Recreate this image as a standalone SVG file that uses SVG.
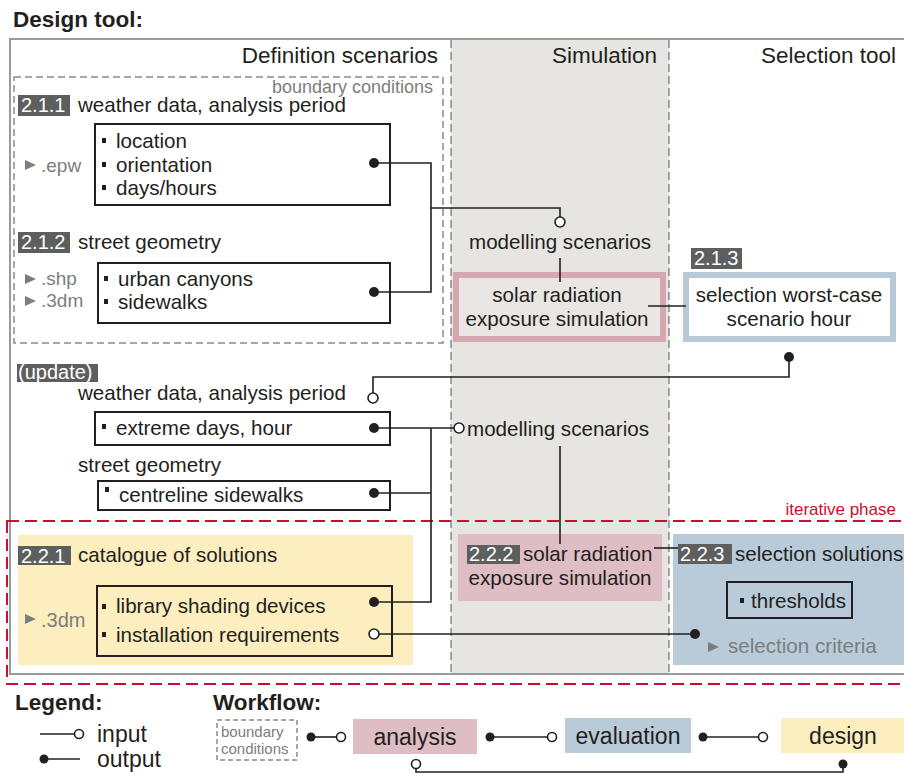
<svg xmlns="http://www.w3.org/2000/svg" width="904" height="776" viewBox="0 0 904 776">
  <defs>
    <style>
      text { font-family: "Liberation Sans", Arial, sans-serif; fill: #231f20; }
      .title { font-size: 22.5px; font-weight: bold; }
      .head { font-size: 22.5px; }
      .lbl { font-size: 20.6px; }
      .small { font-size: 18px; fill: #7d7d7d; }
      .ext { font-size: 19px; fill: #7d7d7d; }
      .tag { fill: #5d5e5e; }
      .tagt { font-size: 20px; fill: #ffffff; }
      .box { fill: none; stroke: #231f20; stroke-width: 2; }
      .wire { fill: none; stroke: #231f20; stroke-width: 1.6; }
      .out { fill: #231f20; }
      .in { fill: #ffffff; stroke: #231f20; stroke-width: 1.6; }
      .tri { fill: #7d7d7d; }
      .wf { font-size: 23px; }
    </style>
  </defs>

  <!-- frame and columns -->
  <text class="title" x="13" y="27">Design tool:</text>
  <rect x="451" y="39" width="218" height="635" fill="#e6e5e1"/>
  <rect x="10" y="39" width="900" height="635" fill="none" stroke="#9a9a9a" stroke-width="2"/>
  <line x1="451" y1="40" x2="451" y2="673" stroke="#555" stroke-width="1" stroke-dasharray="8 4"/>
  <line x1="669" y1="40" x2="669" y2="673" stroke="#555" stroke-width="1" stroke-dasharray="8 4"/>
  <text class="head" x="438" y="63" text-anchor="end">Definition scenarios</text>
  <text class="head" x="657" y="63" text-anchor="end">Simulation</text>
  <text class="head" x="896" y="63" text-anchor="end">Selection tool</text>

  <!-- boundary conditions -->
  <g id="boundary-conditions">
    <rect x="14" y="77" width="429" height="266" fill="none" stroke="#8a8a8a" stroke-width="1.5" stroke-dasharray="7 4"/>
    <text class="small" x="433" y="93" text-anchor="end">boundary conditions</text>
  </g>

  <!-- 2.1.1 weather data -->
  <g id="n211">
    <rect class="tag" x="18" y="95" width="52" height="21"/>
    <text class="tagt" x="21" y="112">2.1.1</text>
    <text class="lbl" x="78" y="112">weather data, analysis period</text>
    <polygon class="tri" points="25,160 36,165 25,170"/>
    <text class="ext" x="41" y="172">.epw</text>
    <rect class="box" x="95" y="124" width="295" height="81"/>
    <rect class="out" x="102" y="138" width="4" height="5"/>
    <text class="lbl" x="116" y="148">location</text>
    <rect class="out" x="102" y="162" width="4" height="5"/>
    <text class="lbl" x="116" y="172">orientation</text>
    <rect class="out" x="102" y="185" width="4" height="5"/>
    <text class="lbl" x="116" y="195">days/hours</text>
  </g>

  <!-- 2.1.2 street geometry -->
  <g id="n212">
    <rect class="tag" x="18" y="232" width="52" height="21"/>
    <text class="tagt" x="21" y="249">2.1.2</text>
    <text class="lbl" x="78" y="249">street geometry</text>
    <polygon class="tri" points="25,274 36,279 25,284"/>
    <text class="ext" x="41" y="285">.shp</text>
    <polygon class="tri" points="25,296 36,301 25,306"/>
    <text class="ext" x="41" y="307">.3dm</text>
    <rect class="box" x="98" y="263" width="292" height="60"/>
    <rect class="out" x="104" y="276" width="4" height="5"/>
    <text class="lbl" x="118" y="286">urban canyons</text>
    <rect class="out" x="104" y="299" width="4" height="5"/>
    <text class="lbl" x="118" y="309">sidewalks</text>
  </g>

  <!-- simulation of modelling scenarios -->
  <g id="modelling-1">
    <text class="lbl" x="560" y="249" text-anchor="middle">modelling scenarios</text>
  </g>
  <g id="sim-1">
    <rect x="456" y="275" width="207" height="64" fill="#e9e6e3" stroke="#d3a8b1" stroke-width="6"/>
    <text class="lbl" x="557" y="302" text-anchor="middle">solar radiation</text>
    <text class="lbl" x="557" y="326" text-anchor="middle">exposure simulation</text>
  </g>

  <!-- 2.1.3 selection worst-case -->
  <g id="n213">
    <rect class="tag" x="691" y="248" width="51" height="21"/>
    <text class="tagt" x="694" y="265">2.1.3</text>
    <rect x="686" y="275" width="207" height="64" fill="#ffffff" stroke="#b7c9d7" stroke-width="6"/>
    <text class="lbl" x="789" y="302" text-anchor="middle">selection worst-case</text>
    <text class="lbl" x="789" y="326" text-anchor="middle">scenario hour</text>
  </g>

  <!-- update phase -->
  <g id="update">
    <rect class="tag" x="17" y="364" width="81" height="18"/>
    <text x="18" y="379" style="font-size:20px;fill:#ffffff">(update)</text>
    <text class="lbl" x="78" y="400">weather data, analysis period</text>
    <rect class="box" x="95" y="412" width="295" height="33"/>
    <rect class="out" x="102" y="424" width="4" height="5"/>
    <text class="lbl" x="116" y="435">extreme days, hour</text>
    <text class="lbl" x="78" y="472">street geometry</text>
    <rect class="box" x="98" y="481" width="292" height="29"/>
    <rect class="out" x="105" y="487" width="4" height="5"/>
    <text class="lbl" x="119" y="502">centreline sidewalks</text>
  </g>

  <g id="modelling-2">
    <text class="lbl" x="467" y="436">modelling scenarios</text>
  </g>

  <!-- iterative phase -->
  <g id="iterative-phase">
    <rect x="7" y="521" width="905" height="163" fill="none" stroke="#c8102e" stroke-width="2" stroke-dasharray="12 6"/>
    <text x="896" y="515" text-anchor="end" style="font-size:17px;fill:#c8102e">iterative phase</text>
  </g>

  <!-- 2.2.1 catalogue -->
  <g id="n221">
    <rect x="18" y="535" width="395" height="130" fill="#fdeebf"/>
    <rect class="tag" x="18" y="546" width="53" height="19"/>
    <text class="tagt" x="21" y="563">2.2.1</text>
    <text class="lbl" x="78" y="562">catalogue of solutions</text>
    <polygon class="tri" points="25,614 36,619 25,624"/>
    <text class="ext" x="41" y="627" style="font-size:20px">.3dm</text>
    <rect class="box" x="97" y="586" width="295" height="70"/>
    <rect class="out" x="102" y="604" width="4" height="5"/>
    <text class="lbl" x="116" y="613">library shading devices</text>
    <rect class="out" x="102" y="632" width="4" height="5"/>
    <text class="lbl" x="116" y="642">installation requirements</text>
  </g>

  <!-- 2.2.2 simulation -->
  <g id="n222">
    <rect x="458" y="534" width="204" height="67" fill="#dfbdc5"/>
    <rect class="tag" x="467" y="545" width="53" height="19"/>
    <text class="tagt" x="469" y="561">2.2.2</text>
    <text class="lbl" x="523" y="561">solar radiation</text>
    <text class="lbl" x="560" y="585" text-anchor="middle">exposure simulation</text>
  </g>

  <!-- 2.2.3 selection solutions -->
  <g id="n223">
    <rect x="673" y="534" width="240" height="131" fill="#b9cbd9"/>
    <rect class="tag" x="678" y="544" width="54" height="20"/>
    <text class="tagt" x="680" y="561">2.2.3</text>
    <text class="lbl" x="735" y="561">selection solutions</text>
    <rect class="box" x="727" y="582" width="125" height="36"/>
    <rect class="out" x="740" y="598" width="4" height="5"/>
    <text class="lbl" x="751" y="608">thresholds</text>
    <polygon class="tri" points="708,642 719,647 708,652"/>
    <text class="lbl" x="728" y="653" style="fill:#7d7d7d">selection criteria</text>
  </g>

  <!-- connectors -->
  <g id="connectors">
    <polyline class="wire" points="374,163 431,163 431,292 374,292"/>
    <polyline class="wire" points="431,208 560,208 560,217"/>
    <line class="wire" x1="560" y1="258" x2="560" y2="282"/>
    <line class="wire" x1="648" y1="306" x2="686" y2="306"/>
    <polyline class="wire" points="789,357 789,377 373,377 373,393"/>
    <polyline class="wire" points="374,428 454,428"/>
    <polyline class="wire" points="374,493 431,493"/>
    <polyline class="wire" points="431,428 431,602 374,602"/>
    <line class="wire" x1="560" y1="446" x2="560" y2="544"/>
    <line class="wire" x1="654" y1="548" x2="678" y2="548"/>
    <line class="wire" x1="379" y1="634" x2="695" y2="634"/>

    <circle class="out" cx="374" cy="163" r="5"/>
    <circle class="out" cx="374" cy="292" r="5"/>
    <circle class="in" cx="560" cy="222" r="5"/>
    <circle class="out" cx="789" cy="357" r="5"/>
    <circle class="in" cx="373" cy="398" r="5"/>
    <circle class="out" cx="374" cy="428" r="5"/>
    <circle class="in" cx="459" cy="428" r="5"/>
    <circle class="out" cx="374" cy="493" r="5"/>
    <circle class="out" cx="374" cy="602" r="5"/>
    <circle class="in" cx="374" cy="634" r="5"/>
    <circle class="out" cx="695" cy="634" r="5"/>
  </g>

  <!-- legend -->
  <g id="legend">
    <text class="title" x="15" y="710">Legend:</text>
    <line class="wire" x1="40" y1="734" x2="75" y2="734"/>
    <circle class="in" cx="79" cy="734" r="4.5"/>
    <text class="wf" x="97" y="742">input</text>
    <line class="wire" x1="44" y1="759" x2="80" y2="759"/>
    <circle class="out" cx="44" cy="759" r="4.5"/>
    <text class="wf" x="97" y="767">output</text>
  </g>

  <!-- workflow -->
  <g id="workflow">
    <text class="title" x="213" y="710">Workflow:</text>
    <g id="wf-boundary">
      <rect x="217" y="720" width="80" height="40" fill="none" stroke="#8a8a8a" stroke-width="1.5" stroke-dasharray="5 3"/>
      <text x="221" y="737" style="font-size:15px;fill:#7d7d7d">boundary</text>
      <text x="221" y="754" style="font-size:15px;fill:#7d7d7d">conditions</text>
    </g>
    <g id="wf-analysis">
      <rect x="353" y="719" width="124" height="35" fill="#dfbdc5"/>
      <text class="wf" x="415" y="745" text-anchor="middle">analysis</text>
    </g>
    <g id="wf-evaluation">
      <rect x="565" y="718" width="126" height="35" fill="#b9cbd9"/>
      <text class="wf" x="628" y="744" text-anchor="middle">evaluation</text>
    </g>
    <g id="wf-design">
      <rect x="781" y="718" width="130" height="35" fill="#fdeebf"/>
      <text class="wf" x="843" y="744" text-anchor="middle">design</text>
    </g>
    <g id="wf-connectors">
      <line class="wire" x1="311" y1="737" x2="337" y2="737"/>
      <circle class="out" cx="311" cy="737" r="4.5"/>
      <circle class="in" cx="341" cy="737" r="4.5"/>
      <line class="wire" x1="490" y1="737" x2="547" y2="737"/>
      <circle class="out" cx="490" cy="737" r="4.5"/>
      <circle class="in" cx="552" cy="737" r="4.5"/>
      <line class="wire" x1="703" y1="737" x2="759" y2="737"/>
      <circle class="out" cx="703" cy="737" r="4.5"/>
      <circle class="in" cx="763" cy="737" r="4.5"/>
      <polyline class="wire" points="416,769 416,772 843,772 843,764"/>
      <circle class="in" cx="416" cy="764" r="4.5"/>
      <circle class="out" cx="843" cy="764" r="4.5"/>
    </g>
  </g>
</svg>
